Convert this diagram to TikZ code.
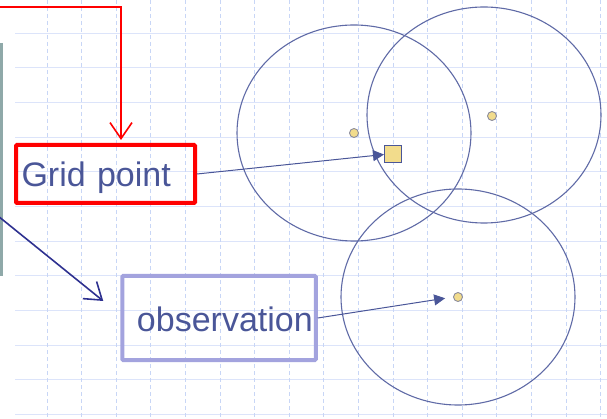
\documentclass[tikz,border=0pt]{standalone}
\usepackage{fontspec}
\setmainfont{Liberation Sans}
\usetikzlibrary{arrows.meta,calc}
\definecolor{ink}{HTML}{4A5698}
\definecolor{ringC}{HTML}{5F6AA6}
\definecolor{gridH}{HTML}{DCE4FA}
\definecolor{gridV}{HTML}{C8D6F6}
\definecolor{redC}{HTML}{FF0000}
\definecolor{lavC}{HTML}{A3A3DE}
\definecolor{navyC}{HTML}{2E3190}
\definecolor{dotC}{HTML}{F2DC8C}
\definecolor{dotLine}{HTML}{8C8C9C}
\definecolor{barC}{HTML}{8FA9A9}
\tikzset{
  >={Triangle[length=11pt,width=11pt]},
  lbl/.style={font=\fontsize{34}{40}\selectfont,text=ink,line width=4pt,
    rounded corners=1pt,inner ysep=0pt,text depth=0pt},
  gridbox/.style={lbl,draw=redC,text width=168pt,inner xsep=5.5pt,
    minimum height=58pt,align=left},
  obsbox/.style={lbl,draw=lavC,text width=187.5pt,inner xsep=3pt,
    minimum height=84pt,align=right},
  ring/.style={draw=ringC,line width=1.1pt},
  stn/.style={circle,draw=dotLine,fill=dotC,line width=0.9pt,
    minimum size=9pt,inner sep=0pt},
  target/.style={rectangle,draw=ink,fill=dotC,line width=1pt,
    minimum size=17pt,inner sep=0pt},
  ptr/.style={->,ink,line width=1pt},
  barb/.style={-{Straight Barb[length=16pt,width=22pt]},line width=1.6pt},
}

\begin{document}
\begin{tikzpicture}[x=1pt,y=-1pt]
\useasboundingbox (0,0) rectangle (607,419);

% ================= BACKGROUND GRID =================
\foreach \k in {0,...,11}
  \draw[gridH,line width=1pt] (15,33.3+34.65*\k) -- (607,33.3+34.65*\k);
\foreach \k in {0,...,16}
  \draw[gridV,line width=1pt,dash pattern=on 4pt off 3pt] (47+34.6*\k,0) -- (47+34.6*\k,419);
\draw[barC,line width=3pt] (1.5,43) -- (1.5,276);

% ================= INFLUENCE RADII =================
\draw[ring] (354,133) ellipse [x radius=117, y radius=108];
\draw[ring] (484,115) ellipse [x radius=117, y radius=108];
\draw[ring] (458,297) ellipse [x radius=117, y radius=108];

\node[stn] (s1) at (354,133) {};
\node[stn] (s2) at (492,116) {};
\node[stn] (s3) at (458,297) {};
\node[target] (gp) at (393,154.5) {};

% ================= LABELS =================
\node[gridbox] (gpl) at (105.5,174) {Grid point};
\node[obsbox] (obl) at (219,318) {\raisebox{-2pt}{observation}};

\draw[ptr] (gpl.east) -- (gp.west);
\draw[ptr,shorten >=8pt] (obl.east) -- (s3.west);

% ================= INCOMING ARROWS =================
\coordinate (redin) at (-2,7);
\coordinate (navyin) at (-2,216);
\draw[barb,redC] (redin) -| ([xshift=15.5pt,yshift=3pt]gpl.north);
\draw[barb,navyC] (navyin) -- ($(obl.west)+(-17,-17)$);

\end{tikzpicture}
\end{document}
